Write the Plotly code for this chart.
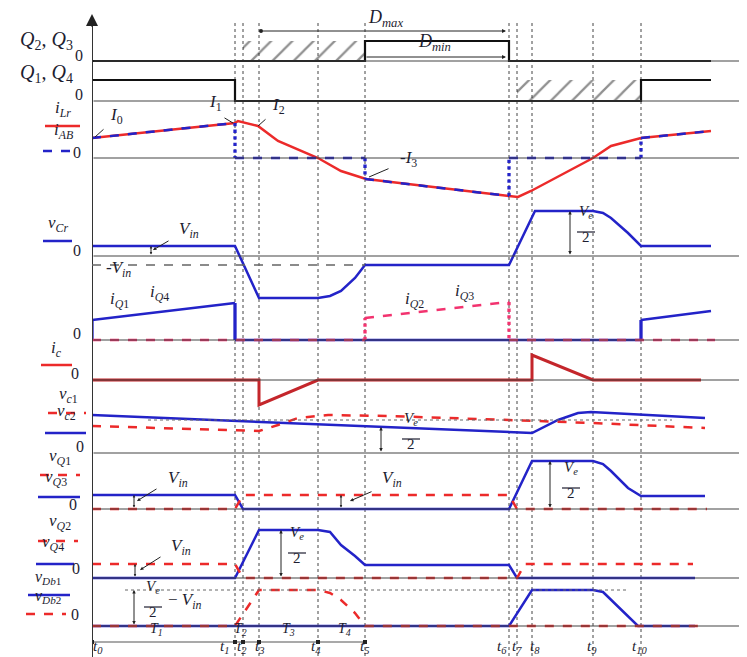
import plotly.graph_objects as go

# ---------------- data (time in px-like units from t0) ----------------
T = [0, 143, 151, 167, 226, 273, 417, 425, 440, 501, 549]          # t0..t10
T_NAMES = ["t<sub>0</sub>", "t<sub>1</sub>", "t<sub>2</sub>", "t<sub>3</sub>", "t<sub>4</sub>",
           "t<sub>5</sub>", "t<sub>6</sub>", "t<sub>7</sub>", "t<sub>8</sub>", "t<sub>9</sub>", "t<sub>10</sub>"]
T_NAME_X = [6, 132, 150, 167, 224, 272, 410, 425, 443, 500, 547]
PHASES = ["T<sub>1</sub>", "T<sub>2</sub>", "T<sub>3</sub>", "T<sub>4</sub>"]
PHASE_X = [64, 148, 196, 252]
X_END = 619

# gate signals
Q23_X = [0, 273, 273, 417, 417, 619]
Q23_Y = [0, 0, 20, 20, 0, 0]
Q23_HATCH_X = [151, 273, 273, 151]
Q23_HATCH_Y = [0, 0, 20, 20]
Q14_X = [0, 143, 143, 549, 549, 619]
Q14_Y = [21, 21, 0, 0, 21, 21]
Q14_HATCH_X = [425, 549, 549, 425]
Q14_HATCH_Y = [0, 0, 21, 21]

# resonant current / bridge current
ILR_X = [0, 143, 146, 166, 186, 226, 249, 274, 417, 426, 439, 469, 501, 519, 549, 619]
ILR_Y = [20, 35, 37, 32, 17, 0, -13, -21, -38, -39, -33, -17, 0, 12, 20, 27]
IAB_X = [0, 143, 143, 273, 273, 417, 417, 549, 549, 619]
IAB_Y = [20, 35, 0, 0, -21, -38, 0, 0, 20, 27]

# resonant capacitor voltage
VCR_X = [0, 143, 167, 226, 238, 249, 263, 273, 417, 443, 501, 511, 519, 536, 549, 619]
VCR_Y = [10, 10, -42, -42, -40, -35, -22, -9, -9, 45, 45, 43, 38, 23, 10, 10]
MINUS_VIN = -9

# switch currents
IQ14_X = [0, 0, 143, 143, 549, 549, 619]
IQ14_Y = [0, 20, 37, 0, 0, 20, 29]
IQ23_X = [0, 273, 273, 417, 417, 623]
IQ23_Y = [0, 0, 22, 38, 0, 0]

# clamp capacitor current
IC_X = [0, 167, 167, 226, 440, 440, 501, 609]
IC_Y = [0, 0, -25, 0, 0, 25, 0, 0]

# clamp capacitor voltages
VC2_X = [0, 440, 466, 486, 499, 613]
VC2_Y = [38, 20, 33, 40, 41, 35]
VC1_X = [0, 167, 186, 206, 236, 296, 417, 501, 613]
VC1_Y = [27, 22, 28, 35, 38, 37, 33, 30, 25]
VC_REF = 33

# switch voltages
VQ3_X = [0, 143, 151, 417, 440, 501, 511, 519, 536, 549, 613]
VQ3_Y = [14, 14, 0, 0, 48, 48, 45, 38, 21, 13, 13]
VQ1_X = [0, 143, 151, 417, 425, 615]
VQ1_Y = [0, 0, 14, 14, 0, 0]
VQ4_X = [0, 143, 167, 226, 238, 249, 263, 273, 417, 425, 603]
VQ4_Y = [0, 0, 48, 48, 46, 33, 22, 13, 13, 0, 0]
VQ2_X = [0, 143, 151, 425, 433, 601]
VQ2_Y = [14, 14, 0, 0, 14, 14]

# rectifier diode voltages
VDB1_X = [0, 417, 440, 501, 511, 519, 533, 546, 603]
VDB1_Y = [0, 0, 36, 36, 34, 26, 13, 0, 0]
VDB2_X = [0, 143, 167, 226, 238, 249, 263, 273, 609]
VDB2_Y = [0, 0, 36, 36, 33, 26, 13, 0, 0]
VDB_REF = 36

# ---------------- layout helpers ----------------
W, H = 747, 657
L, R = 84, 2
XR = W - L - R
BASE = {"q23": 53, "q14": 93, "ilr": 150, "vcr": 248, "iq": 332, "ic": 372,
        "vc": 445, "vq13": 501, "vq24": 570, "vdb": 618, "time": 634}
AX = {k: i + 1 for i, k in enumerate(BASE)}
DY = 6  # vertical correction for text placement

RED = "#ec2a2a"
PINK = "#f2336f"
DRED = "#c4262b"
BLUE = "#2323c8"
TXT = "#1d1d30"
FONT = "Liberation Serif"


def yname(p):
    n = AX[p]
    return "y" if n == 1 else f"y{n}"


def px(xp):
    return (xp - L) / XR


def py(yp):
    return (H - yp) / H


fig = go.Figure()


def line(p, x, y, color, width=2.5, dash="solid", vdash=None):
    """draw polyline; vertical pieces can get their own dash style"""
    if vdash is None:
        fig.add_trace(go.Scatter(x=x, y=y, mode="lines", yaxis=yname(p),
                                 line=dict(color=color, width=width, dash=dash),
                                 hoverinfo="skip", showlegend=False))
        return
    for i in range(len(x) - 1):
        vert = x[i] == x[i + 1]
        fig.add_trace(go.Scatter(x=[x[i], x[i + 1]], y=[y[i], y[i + 1]], mode="lines",
                                 yaxis=yname(p),
                                 line=dict(color=color, width=width + (0.8 if vert else 0),
                                           dash=vdash if vert else dash),
                                 hoverinfo="skip", showlegend=False))


def hatch(p, x, y):
    fig.add_trace(go.Scatter(x=x, y=y, mode="lines", fill="toself", yaxis=yname(p),
                             line=dict(width=0, color="rgba(0,0,0,0)"),
                             fillcolor="rgba(0,0,0,0)",
                             fillpattern=dict(shape="/", fgcolor="#222", bgcolor="rgba(0,0,0,0)",
                                              size=15, solidity=0.15),
                             hoverinfo="skip", showlegend=False))


ann = []
shapes = []


def text(p, x, y, s, size=16, color=TXT, xanchor="center"):
    ann.append(dict(x=x, y=y + DY, xref="x", yref=yname(p), text=s, showarrow=False,
                    font=dict(family=FONT, size=size, color=color), xanchor=xanchor,
                    yanchor="middle"))


def ptext(xp, yp, s, size=16, color=TXT):
    ann.append(dict(x=px(xp), y=py(yp - DY), xref="paper", yref="paper", text=s, showarrow=False,
                    font=dict(family=FONT, size=size, color=color), xanchor="center",
                    yanchor="middle"))


def uline(x0, x1, yp, color, dash="solid", width=2.5):
    shapes.append(dict(type="line", xref="paper", yref="paper", x0=px(x0), x1=px(x1),
                       y0=py(yp), y1=py(yp), line=dict(color=color, width=width, dash=dash)))


def arrow(p, x0, y0, x1, y1, both=False, head=2, size=0.8, width=1.1, color="#222"):
    ann.append(dict(x=x1, y=y1, ax=x0, ay=y0, xref="x", yref=yname(p), axref="x",
                    ayref=yname(p), text="", showarrow=True, arrowhead=head,
                    arrowside="end+start" if both else "end", arrowsize=size,
                    arrowwidth=width, arrowcolor=color))


def frac(p, x, ybar, size=15):
    text(p, x, ybar + 14, "<i>V</i><sub><i>e</i></sub>", size)
    shapes.append(dict(type="line", xref="x", yref=yname(p), x0=x - 9, x1=x + 9,
                       y0=ybar, y1=ybar, line=dict(color=TXT, width=1.2)))
    text(p, x, ybar - 11, "2", size)


# ---------------- axes / grid ----------------
for t in T:
    shapes.append(dict(type="line", xref="x", yref="paper", x0=t, x1=t, y0=py(648), y1=py(12),
                       line=dict(color="#444", width=1, dash="dot"), layer="below"))
for p in BASE:
    if p == "time":
        continue
    arrow(p, 0, 0, 657, 0, head=2, size=1.1, width=1.1, color="#444")
shapes.append(dict(type="line", xref="x", yref="paper", x0=0, x1=0, y0=0, y1=py(12),
                   line=dict(color="#333", width=2)))
ann.append(dict(x=0, y=py(6), xref="x", yref="paper", ax=0, ay=14, text="", showarrow=True,
                arrowhead=2, arrowsize=1.2, arrowwidth=2, arrowcolor="#222"))

# ---------------- gate signals ----------------
hatch("q23", Q23_HATCH_X, Q23_HATCH_Y)
line("q23", Q23_X, Q23_Y, "#111", 2.2)
hatch("q14", Q14_HATCH_X, Q14_HATCH_Y)
line("q14", Q14_X, Q14_Y, "#111", 2.2)
arrow("q23", 169, 30, 414, 30, head=2, size=0.8, width=1)
fig.add_trace(go.Scatter(x=[169], y=[30], yaxis=yname("q23"), mode="markers",
                         marker=dict(color="#222", size=4), hoverinfo="skip", showlegend=False))
arrow("q23", 273, 4, 414, 4, head=2, size=0.8, width=1)
text("q23", 293, 37, "<i>D</i><sub><i>max</i></sub>", 18)
text("q23", 342, 13, "<i>D</i><sub><i>min</i></sub>", 18)

# ---------------- iLr / iAB ----------------
line("ilr", ILR_X, ILR_Y, RED, 2.5)
line("ilr", IAB_X, IAB_Y, BLUE, 2.5, dash="dash", vdash="dot")
text("ilr", 24, 36, "<i>I</i><sub>0</sub>", 17)
arrow("ilr", 13, 30, 3, 21, head=0, width=1)
text("ilr", 123, 49, "<i>I</i><sub>1</sub>", 17)
arrow("ilr", 131, 41, 141, 35, head=0, width=1)
text("ilr", 186, 46, "<i>I</i><sub>2</sub>", 17)
arrow("ilr", 175, 40, 166, 32, head=0, width=1)
text("ilr", 316, -7, "-<i>I</i><sub>3</sub>", 17)
arrow("ilr", 298, -10, 277, -19, head=0, width=1)

# ---------------- vCr ----------------
shapes.append(dict(type="line", xref="x", yref=yname("vcr"), x0=0, x1=273, y0=MINUS_VIN,
                   y1=MINUS_VIN, line=dict(color="#666", width=1.5, dash="dash")))
line("vcr", VCR_X, VCR_Y, BLUE, 2.5)
text("vcr", 97, 20, "<i>V</i><sub><i>in</i></sub>", 17)
arrow("vcr", 78, 16, 61, 6, head=2, size=0.7, width=1)
arrow("vcr", 59, 0, 59, 10, both=True, head=2, size=0.5, width=1)
text("vcr", 26, -19, "-<i>V</i><sub><i>in</i></sub>", 17)
arrow("vcr", 478, 0, 478, 45, both=True, head=2, size=0.7, width=1)
frac("vcr", 494, 24)

# ---------------- iQ ----------------
line("iq", IQ14_X, IQ14_Y, BLUE, 2.5, vdash="solid")
line("iq", IQ23_X, IQ23_Y, PINK, 2.5, dash="dash", vdash="dot")
text("iq", 27, 34, "<i>i</i><sub><i>Q</i>1</sub>", 17)
text("iq", 67, 41, "<i>i</i><sub><i>Q</i>4</sub>", 17)
text("iq", 322, 34, "<i>i</i><sub><i>Q</i>2</sub>", 17)
text("iq", 372, 42, "<i>i</i><sub><i>Q</i>3</sub>", 17)

# ---------------- ic ----------------
line("ic", IC_X, IC_Y, DRED, 3)

# ---------------- vc1 / vc2 ----------------
shapes.append(dict(type="line", xref="x", yref=yname("vc"), x0=56, x1=580, y0=VC_REF,
                   y1=VC_REF, line=dict(color="#666", width=1, dash="dot")))
line("vc", VC2_X, VC2_Y, BLUE, 2.5)
line("vc", VC1_X, VC1_Y, RED, 2.5, dash="dash")
arrow("vc", 289, 0, 289, 26, both=True, head=2, size=0.7, width=1)
frac("vc", 319, 14)

# ---------------- vQ1 / vQ3 ----------------
line("vq13", VQ3_X, VQ3_Y, BLUE, 2.5)
line("vq13", VQ1_X, VQ1_Y, RED, 2.5, dash="dash")
text("vq13", 86, 24, "<i>V</i><sub><i>in</i></sub>", 17)
arrow("vq13", 66, 21, 45, 8, head=2, size=0.7, width=1)
arrow("vq13", 42, 0, 42, 14, both=True, head=2, size=0.5, width=1)
text("vq13", 300, 24, "<i>V</i><sub><i>in</i></sub>", 17)
arrow("vq13", 281, 18, 258, 8, head=2, size=0.7, width=1)
arrow("vq13", 249, 0, 249, 14, both=True, head=2, size=0.5, width=1)
arrow("vq13", 458, 0, 458, 48, both=True, head=2, size=0.7, width=1)
frac("vq13", 479, 21)

# ---------------- vQ2 / vQ4 ----------------
line("vq24", VQ4_X, VQ4_Y, BLUE, 2.5)
line("vq24", VQ2_X, VQ2_Y, RED, 2.5, dash="dash")
text("vq24", 89, 25, "<i>V</i><sub><i>in</i></sub>", 17)
arrow("vq24", 70, 22, 48, 8, head=2, size=0.7, width=1)
arrow("vq24", 43, 0, 43, 14, both=True, head=2, size=0.5, width=1)
arrow("vq24", 189, 0, 189, 48, both=True, head=2, size=0.7, width=1)
frac("vq24", 205, 25)

# ---------------- vDb1 / vDb2 ----------------
shapes.append(dict(type="line", xref="x", yref=yname("vdb"), x0=33, x1=536, y0=VDB_REF,
                   y1=VDB_REF, line=dict(color="#666", width=1, dash="dot")))
line("vdb", VDB1_X, VDB1_Y, BLUE, 2.5)
line("vdb", VDB2_X, VDB2_Y, RED, 2.5, dash="dash")
arrow("vdb", 42, 0, 42, 36, both=True, head=2, size=0.7, width=1)
frac("vdb", 61, 19)
text("vdb", 93, 19, "− <i>V</i><sub><i>in</i></sub>", 17)

# ---------------- time axis ----------------
fig.add_trace(go.Scatter(x=T[:6], y=[0] * 6, yaxis=yname("time"), mode="lines+markers",
                         line=dict(color="#555", width=1.2),
                         marker=dict(symbol="square", size=4, color="#222"),
                         hoverinfo="skip", showlegend=False))
for s, x in zip(PHASES, PHASE_X):
    text("time", x, 7, "<i>" + s + "</i>", 14)
for s, x in zip(T_NAMES, T_NAME_X):
    text("time", x, -11, "<i>" + s + "</i>", 15)

# ---------------- left labels ----------------
ptext(38, 38, "<i>Q</i><sub>2</sub>, <i>Q</i><sub>3</sub>", 20)
ptext(71, 53, "0", 16)
ptext(38, 71, "<i>Q</i><sub>1</sub>, <i>Q</i><sub>4</sub>", 20)
ptext(71, 92, "0", 16)
ptext(55, 107, "<i>i</i><sub><i>Lr</i></sub>", 17)
uline(37, 72, 118, RED)
ptext(55, 129, "<i>i</i><sub><i>AB</i></sub>", 17)
uline(35, 68, 143, BLUE, dash="dash")
ptext(69, 150, "0", 16)
ptext(50, 222, "<i>v</i><sub><i>Cr</i></sub>", 17)
uline(35, 64, 233, BLUE)
ptext(69, 248, "0", 16)
ptext(69, 331, "0", 16)
ptext(48, 347, "<i>i</i><sub><i>c</i></sub>", 17)
uline(33, 64, 357, RED)
ptext(67, 371, "0", 16)
ptext(60, 393, "<i>v</i><sub><i>c</i>1</sub>", 17)
uline(40, 78, 405, RED, dash="dash")
ptext(58, 410, "<i>v</i><sub><i>c</i>2</sub>", 17)
uline(37, 78, 425, BLUE)
ptext(72, 444, "0", 16)
ptext(52, 455, "<i>v</i><sub><i>Q</i>1</sub>", 17)
uline(32, 72, 467, RED, dash="dash")
ptext(48, 476, "<i>v</i><sub><i>Q</i>3</sub>", 17)
uline(30, 72, 489, BLUE)
ptext(65, 502, "0", 16)
ptext(52, 520, "<i>v</i><sub><i>Q</i>2</sub>", 17)
uline(30, 70, 533, RED, dash="dash")
ptext(45, 541, "<i>v</i><sub><i>Q</i>4</sub>", 17)
uline(28, 66, 556, BLUE)
ptext(68, 566, "0", 16)
ptext(40, 575, "<i>v</i><sub><i>Db</i>1</sub>", 16)
uline(20, 62, 587, BLUE)
ptext(40, 594, "<i>v</i><sub><i>Db</i>2</sub>", 16)
uline(18, 58, 606, RED, dash="dash")
ptext(67, 612, "0", 16)

# ---------------- axes config ----------------
lay = dict(width=W, height=H, margin=dict(l=L, r=R, t=0, b=0),
           paper_bgcolor="white", plot_bgcolor="rgba(0,0,0,0)", showlegend=False,
           xaxis=dict(range=[0, XR], visible=False, fixedrange=True),
           annotations=ann, shapes=shapes)
for p, n in AX.items():
    key = "yaxis" if n == 1 else f"yaxis{n}"
    b = BASE[p]
    d = dict(range=[b - H, b], domain=[0, 1], visible=False, fixedrange=True)
    if n > 1:
        d["overlaying"] = "y"
    lay[key] = d
fig.update_layout(**lay)
fig.write_html("out.html")
